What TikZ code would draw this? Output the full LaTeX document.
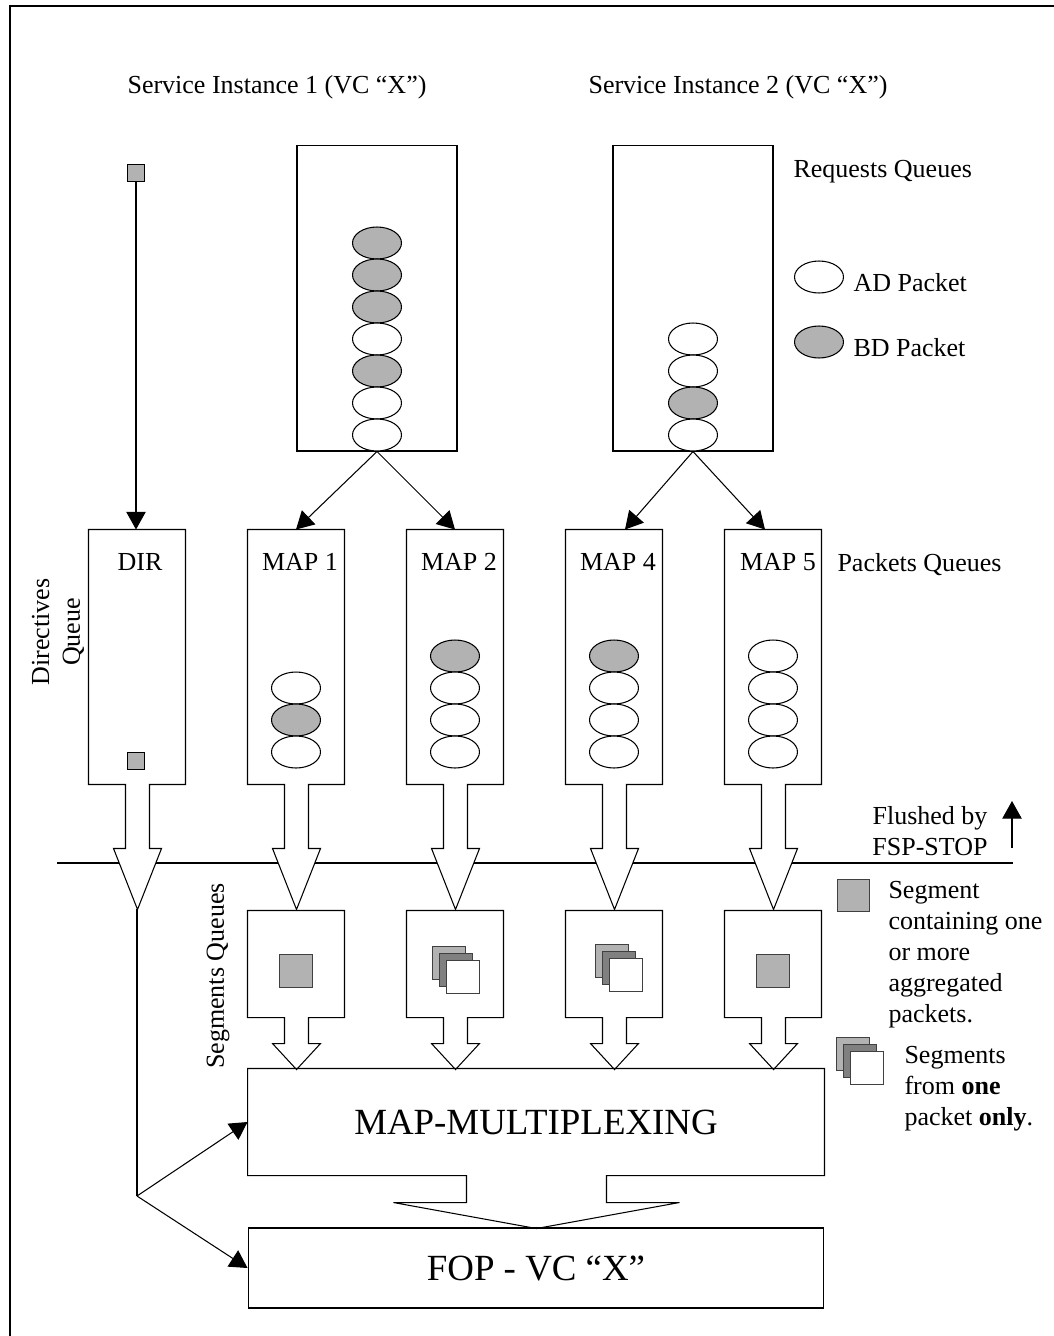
\documentclass[tikz,border=0pt]{standalone}
\usepackage{fontspec}
\setmainfont{Liberation Serif}
\usetikzlibrary{arrows.meta,shapes.geometric}

\colorlet{pkgray}{black!30}
\colorlet{pkdark}{black!50}

\tikzset{
  every node/.style={font=\fontsize{14.8}{17.6}\selectfont},
  qbox/.style={rectangle, minimum width=1.92cm, minimum height=5.08cm, inner sep=0pt},
  sbox/.style={rectangle, minimum width=1.92cm, minimum height=2.12cm, inner sep=0pt},
  rbox/.style={rectangle, draw, minimum width=3.2cm, minimum height=6.12cm, inner sep=0pt},
  bigbox/.style={rectangle, minimum width=11.52cm, inner sep=0pt, font=\fontsize{21}{25}\selectfont},
  pkt/.style={ellipse, draw, minimum width=0.98cm, minimum height=0.64cm, inner sep=0pt},
  seg/.style={rectangle, draw=black!75, line width=0.4pt, fill=pkgray, minimum size=0.66cm, inner sep=0pt},
  dirsq/.style={rectangle, draw, fill=pkgray, minimum size=0.34cm, inner sep=0pt},
  arr/.style={-{Triangle[length=10pt,width=11pt]}},
}

% queue outline with its block arrow below
\newcommand{\qoutline}[3]{%
  \draw[fill=white] (#1.south west) -- (#1.north west) -- (#1.north east) -- (#1.south east)
    -- ++(-36,0) -- ++(0,#2) -- ++(12,0) -- ++(-24,#3) -- ++(-24,-#3) -- ++(12,0) -- ++(0,-#2) -- cycle;}

% three stacked segments
\newcommand{\segstack}[3]{%
  \node[seg] (#1a) at ({#2-7},{#3-7}) {};
  \node[seg, fill=pkdark] (#1b) at (#2,#3) {};
  \node[seg, fill=white] (#1c) at ({#2+7},{#3+7}) {};}

\begin{document}
\begin{tikzpicture}[x=0.02cm, y=-0.02cm, line width=0.6pt]
	\useasboundingbox (0,0) rectangle (1054,1336);
	\draw (10,1336) -- (10,6) -- (1054,6);

	\node (si1) at (277,87) {Service Instance 1 (VC “X”)};
	\node (si2) at (738,87) {Service Instance 2 (VC “X”)};

	% request queues
	\node[rbox] (rq1) at (377,298) {};
	\node[rbox] (rq2) at (693,298) {};
	\node[anchor=west, inner sep=0pt] (reqlbl) at (793,172) {Requests Queues};

	\foreach \f [count=\i] in {pkgray,pkgray,pkgray,white,pkgray,white,white}
		\node[pkt, fill=\f] (rqa\i) at (377,{243+32*(\i-1)}) {};
	\foreach \f [count=\i] in {white,white,pkgray,white}
		\node[pkt, fill=\f] (rqb\i) at (693,{339+32*(\i-1)}) {};

	\node[pkt] (adleg) at (819,277) {};
	\node[anchor=west, inner sep=0pt] (adlbl) at (853,283) {AD Packet};
	\node[pkt, fill=pkgray] (bdleg) at (819,342) {};
	\node[anchor=west, inner sep=0pt] (bdlbl) at (853,348) {BD Packet};

	% flush line
	\coordinate (fl1) at (57,863);
	\coordinate (fl2) at (1013,863);
	\draw (fl1) -- (fl2);

	% packets queues
	\node[qbox] (dir) at (137,657) {};
	\foreach \n/\x in {1/296,2/455,4/614,5/773}
		\node[qbox] (map\n) at (\x,657) {};
	\qoutline{dir}{64}{61}
	\foreach \n in {1,2,4,5} {\qoutline{map\n}{64}{61}}

	\node (dirlbl) at (140,562) {DIR};
	\foreach \n/\x in {1/300,2/459,4/618,5/778}
		\node (maplbl\n) at (\x,562) {MAP \n};
	\node[anchor=west, inner sep=0pt] (pqlbl) at (837,565) {Packets Queues};
	\node[rotate=90, align=center] (dqlbl) at (58,632) {Directives\\Queue};

	\foreach \f [count=\i] in {white,pkgray,white}
		\node[pkt, fill=\f] (ma\i) at (296,{688+32*(\i-1)}) {};
	\foreach \f [count=\i] in {pkgray,white,white,white}
		\node[pkt, fill=\f] (mb\i) at (455,{656+32*(\i-1)}) {};
	\foreach \f [count=\i] in {pkgray,white,white,white}
		\node[pkt, fill=\f] (mc\i) at (614,{656+32*(\i-1)}) {};
	\foreach \f [count=\i] in {white,white,white,white}
		\node[pkt, fill=\f] (md\i) at (773,{656+32*(\i-1)}) {};

	\draw[arr] (rq1.south) -- (map1.north);
	\draw[arr] (rq1.south) -- (map2.north);
	\draw[arr] (rq2.south) -- ([xshift=0.22cm]map4.north);
	\draw[arr] (rq2.south) -- ([xshift=-0.16cm]map5.north);

	% directives
	\node[dirsq] (dirin) at (136,173) {};
	\node[dirsq] (dirsq1) at (136,761) {};
	\draw[arr] (dirin) -- (dirin |- dir.north);

	\node[align=center] (flbl) at (930,831) {Flushed by\\FSP-STOP};
	\coordinate (fa1) at (1012,848);
	\coordinate (fa2) at (1012,801);
	\draw[arr] (fa1) -- (fa2);

	% segments queues
	\foreach \n/\x in {1/296,2/455,4/614,5/773}
		\node[sbox] (sq\n) at (\x,964) {};
	\foreach \n in {1,2,4,5} {\qoutline{sq\n}{26}{26}}
	\node[rotate=90] (sqlbl) at (218,976) {Segments Queues};

	\node[seg] (s1) at (296,971) {};
	\segstack{s2}{456}{970}
	\segstack{s4}{619}{968}
	\node[seg] (s5) at (773,971) {};

	\node[seg, minimum size=0.64cm] (segleg) at (853,895) {};
	\node[anchor=north west, align=left, inner sep=0pt] (seglbl) at (888,881) {Segment\\containing one\\or more\\aggregated\\packets.};
	\segstack{stk}{860}{1061}
	\node[anchor=north west, align=left, inner sep=0pt] (stklbl) at (904,1046) {Segments\\from \textbf{one}\\packet \textbf{only}.};

	% multiplexing and FOP
	\node[bigbox, minimum height=2.12cm] (mux) at (536,1122) {MAP-MULTIPLEXING};
	\draw (mux.north west) -- (mux.north east) -- (mux.south east) -- ++(-218,0) -- ++(0,27) -- ++(73,0)
		-- ++(-143,26) -- ++(-143,-26) -- ++(73,0) -- ++(0,-27) -- (mux.south west) -- cycle;
	\node[bigbox, draw, minimum height=1.6cm] (fop) at (536,1268) {FOP - VC “X”};

	\coordinate (dirtip) at (137,909);
	\coordinate (split) at (137,1196);
	\draw (dirtip) -- (split);
	\draw[arr] (split) -- (mux.west);
	\draw[arr] (split) -- (fop.west);

\end{tikzpicture}
\end{document}
